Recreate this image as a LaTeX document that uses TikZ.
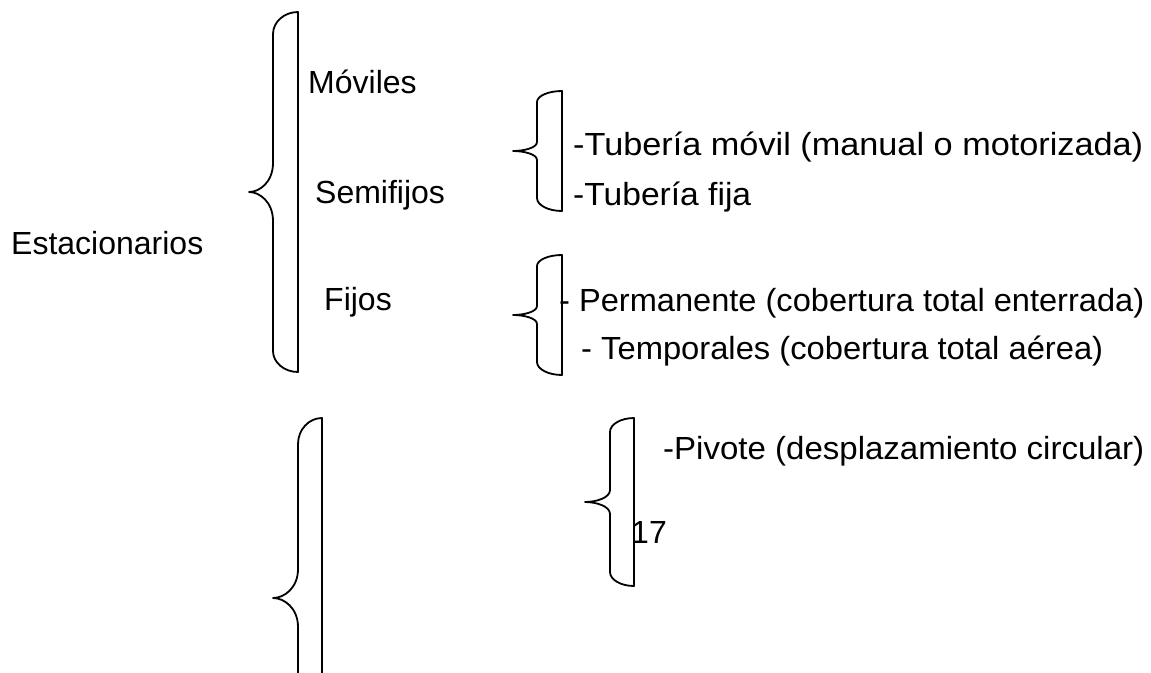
\documentclass[tikz,border=0pt]{standalone}
\usepackage{fontspec}
\setmainfont{Liberation Sans}
% Brace outline: curly left side, straight right side.
% #1 right x, #2 top y, #3 bottom y, #4 stem x, #5 tip x, #6 tip y,
% #7 top bend height, #8 middle bend height, #9 bottom bend height
\newcommand\openbrace[9]{%
  \draw[bracestyle] (#1,#2)
    .. controls ({#1-0.55*(#1-#4)},#2) and (#4,{#2+0.45*#7}) .. (#4,{#2+#7})
    -- (#4,{#6-#8})
    .. controls (#4,{#6-0.35*#8}) and ({#5+0.45*(#4-#5)},#6) .. (#5,#6)
    .. controls ({#5+0.45*(#4-#5)},#6) and (#4,{#6+0.35*#8}) .. (#4,{#6+#8})
    -- (#4,{#3-#9})
    .. controls (#4,{#3-0.45*#9}) and ({#1-0.55*(#1-#4)},#3) .. (#1,#3)
    -- cycle;}
% set a line of text to a given width, keeping its height
\newcommand\spread[2]{\resizebox{#1pt}{\height}{#2}}
\begin{document}
\begin{tikzpicture}[x=1pt,y=-1pt,
  bracestyle/.style={draw=black,line width=1.8pt,line join=round},
  lbl/.style={anchor=base west,inner sep=0pt,font=\fontsize{32}{38}\selectfont}]
\useasboundingbox (0,0) rectangle (1151,672);
\clip (0,0) rectangle (1151,672);
\fill[white] (0,0) rectangle (1151,672);

% braces
\openbrace{298}{12}{372}{273}{249}{192}{22}{29}{21}
\openbrace{562}{91}{211}{537}{513}{151}{11}{9}{13}
\openbrace{562}{255}{375}{537}{513}{315}{11}{9}{13}
\openbrace{322}{418}{778}{298}{273}{598}{26}{29}{26}
\openbrace{634}{418}{586}{610}{585}{502}{14}{12}{14}

% labels
\node[lbl] (estacionarios) at (11,254) {Estacionarios};
\node[lbl] (moviles) at (308,93) {Móviles};
\node[lbl] (semifijos) at (315,203) {Semifijos};
\node[lbl] (fijos) at (324,310) {Fijos};
\node[lbl] (tmovil) at (573,155) {\spread{570}{-Tubería móvil (manual o motorizada)}};
\node[lbl] (tfija) at (573,205) {\spread{178}{-Tubería fija}};
\node[lbl] (perm) at (559,311) {\spread{585}{- Permanente (cobertura total enterrada)}};
\node[lbl] (temp) at (581,359) {\spread{522}{- Temporales (cobertura total aérea)}};
\node[lbl] (pivote) at (663,459) {\spread{481}{-Pivote (desplazamiento circular)}};
\node[lbl] (n17) at (631,543) {17};
\end{tikzpicture}
\end{document}
